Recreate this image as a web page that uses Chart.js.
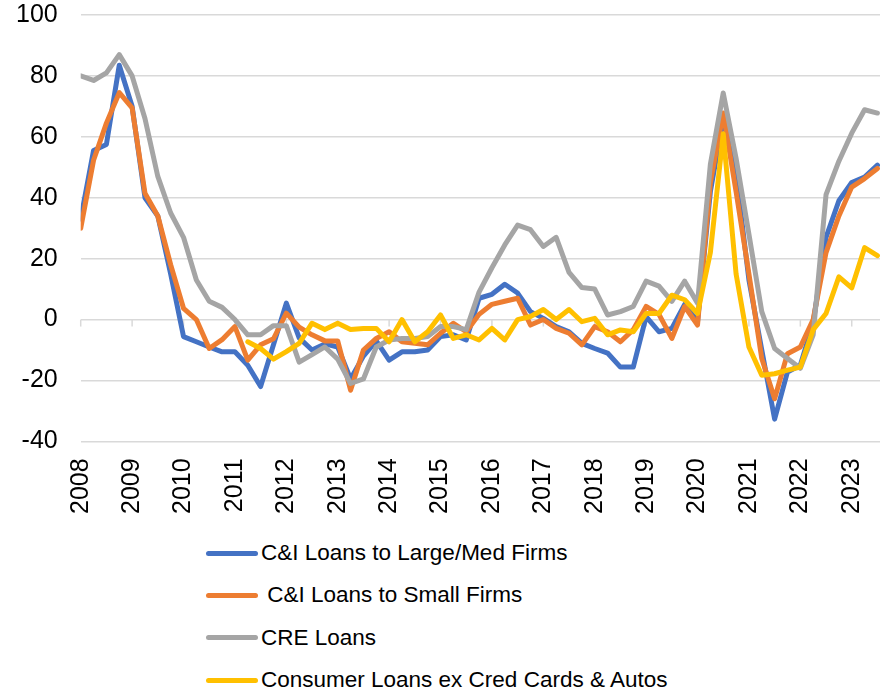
<!DOCTYPE html>
<html>
<head>
<meta charset="utf-8">
<script src="https://cdn.jsdelivr.net/npm/chart.js@4.4.0/dist/chart.umd.min.js"></script>
<style>
  body { margin: 0; background: #fff; font-family: 'Liberation Sans', Arial, sans-serif; }
  #wrap { position: relative; width: 889px; height: 693px; }
  #chart { position: absolute; left: 0; top: 0; }
  #legend { position: absolute; left: 206px; top: 532px; }
  .row { display: flex; align-items: center; height: 42.3px; font-size: 22.5px; color: #000; white-space: pre; }
  .swatch { width: 52px; height: 5px; border-radius: 3px; margin-right: 3px; }
</style>
</head>
<body>
<div id="wrap">
  <canvas id="chart" width="889" height="530"></canvas>
  <div id="legend"></div>
</div>
<script>
'use strict';

// Trimestres 2008T1 .. 2023T3, em anos decimais
const quarters = [];
for (let y = 2008; y <= 2023; y++) {
    for (let q = 0; q < 4; q++) {
        if (y === 2023 && q > 2) break;
        quarters.push(y + q / 4);
    }
}

const yearTicks = [2008, 2009, 2010, 2011, 2012, 2013, 2014, 2015, 2016, 2017, 2018, 2019, 2020, 2021, 2022, 2023];

const labels = [
    'C&I Loans to Large/Med Firms',
    ' C&I Loans to Small Firms',
    'CRE Loans',
    'Consumer Loans ex Cred Cards & Autos'
];

const colors = ['#4472C4', '#ED7D31', '#A5A5A5', '#FFC000'];

const ciLarge = [
    33, 55.5, 57.5, 83.5, 70, 40, 34, 15,
    -5.6, -7.3, -9, -10.6, -10.6, -15, -22, -8.3,
    5.4, -6, -10, -8, -9, -19.5, -12, -7,
    -13.3, -10.6, -10.6, -10, -5.6, -5, -6.7, 7,
    8.3, 11.6, 8.7, 2.6, 0.4, -2.3, -4, -7.8,
    -9.5, -11, -15.6, -15.6, 1, -4, -2.9, 5,
    -0.7, 42, 66, 48, 13, -10, -32.7, -17.2,
    -15, -1, 27, 39, 45, 46.8, 50.7
];

const ciSmall = [
    30, 52.3, 64.5, 74.5, 69.5, 41.5, 34, 18,
    3.7, 0, -9.5, -6.6, -2.3, -13.3, -8.3, -6.3,
    2.1, -2.5, -5, -7, -7, -23.2, -10, -6.2,
    -4, -7.3, -7.8, -8.3, -4.5, -1.2, -4, 1.7,
    5, 6, 7, -1.8, 0, -2.9, -4.5, -8.3,
    -2.3, -4, -7.3, -3.3, 4.3, 1.7, -6.2, 4.3,
    -1.8, 45, 67.8, 42, 15, -12.8, -26, -11.2,
    -9, 0, 22, 34, 43.5, 46.3, 49.6
];

const cre = [
    80, 78.5, 81, 87, 80, 66, 47, 35,
    27, 13, 6, 4, 0, -5, -5, -2,
    -2, -14, -11.5, -9, -13, -21, -19.5, -9,
    -6.7, -6.2, -6.2, -5.6, -2.3, -2.3, -3.3, 9,
    17, 24.5, 31, 29.5, 24, 27, 15.5, 10.5,
    10, 1.5, 2.6, 4.3, 12.6, 11, 6, 12.6,
    5.4, 51, 74.4, 53, 28, 2.6, -9.5, -12.8,
    -16, -5, 41, 52, 61.2, 68.9, 67.8
];

const consumer = [
    null, null, null, null, null, null, null, null,
    null, null, null, null, null, -7.3, -9.5, -13,
    -10.5, -7.8, -1.2, -3.3, -1.2, -3.3, -2.9, -2.9,
    -7.3, 0, -7.3, -4, 1.5, -6.2, -5, -6.7,
    -2.9, -6.7, 0, 1, 3.3, 0, 3.3, -0.7,
    0.4, -5, -3.4, -4, 2, 2, 8, 6.5,
    2, 22, 61, 15, -9, -18.3, -17.8, -16.6,
    -15.6, -3.3, 2, 14, 10.4, 23.6, 21
];

const series = [ciLarge, ciSmall, cre, consumer];

// Pequenas marcas verticais sobre a linha do zero, uma por ano
const zeroTicks = {
    id: 'zeroTicks',
    beforeDatasetsDraw(chart) {
        const { ctx, scales } = chart;
        const y0 = scales.y.getPixelForValue(0);
        ctx.save();
        ctx.strokeStyle = '#d9d9d9';
        ctx.lineWidth = 1.5;
        yearTicks.forEach(yr => {
            const x = scales.x.getPixelForValue(yr);
            ctx.beginPath();
            ctx.moveTo(x, y0);
            ctx.lineTo(x, y0 + 7);
            ctx.stroke();
        });
        ctx.restore();
    }
};

const datasets = series.map((vals, i) => ({
    label: labels[i],
    data: vals.map((v, k) => ({ x: quarters[k], y: v })),
    borderColor: colors[i],
    backgroundColor: colors[i],
    borderWidth: 5,
    borderJoinStyle: 'round',
    borderCapStyle: 'round',
    pointRadius: 0,
    tension: 0,
    order: 4 - i
}));

const tickFont = { family: "'Liberation Sans', Arial", size: 25 };

const ctx = document.getElementById('chart').getContext('2d');
new Chart(ctx, {
    type: 'line',
    data: { datasets: datasets },
    options: {
        responsive: false,
        animation: false,
        layout: { padding: { left: 16, right: 9, top: 0, bottom: 16 } },
        plugins: {
            legend: { display: false },
            tooltip: { enabled: false }
        },
        scales: {
            x: {
                type: 'linear',
                min: 2008,
                max: 2023.55,
                grid: { display: false, drawTicks: true, tickLength: 17 },
                border: { display: false },
                ticks: {
                    stepSize: 1,
                    includeBounds: false,
                    autoSkip: false,
                    minRotation: 90,
                    maxRotation: 90,
                    padding: 0,
                    color: '#000',
                    font: tickFont,
                    callback: v => String(v)
                }
            },
            y: {
                min: -40,
                max: 100,
                grid: { color: '#d9d9d9', lineWidth: 1.5, drawTicks: true, tickLength: 23, tickColor: 'rgba(0,0,0,0)' },
                border: { display: false },
                ticks: {
                    stepSize: 20,
                    padding: 0,
                    color: '#000',
                    font: tickFont
                }
            }
        }
    },
    plugins: [zeroTicks]
});

// Legenda em HTML, uma linha por série
const legendEl = document.getElementById('legend');
labels.forEach((name, i) => {
    const row = document.createElement('div');
    row.className = 'row';
    const sw = document.createElement('span');
    sw.className = 'swatch';
    sw.style.background = colors[i];
    const txt = document.createElement('span');
    txt.textContent = name;
    row.appendChild(sw);
    row.appendChild(txt);
    legendEl.appendChild(row);
});
</script>
</body>
</html>
